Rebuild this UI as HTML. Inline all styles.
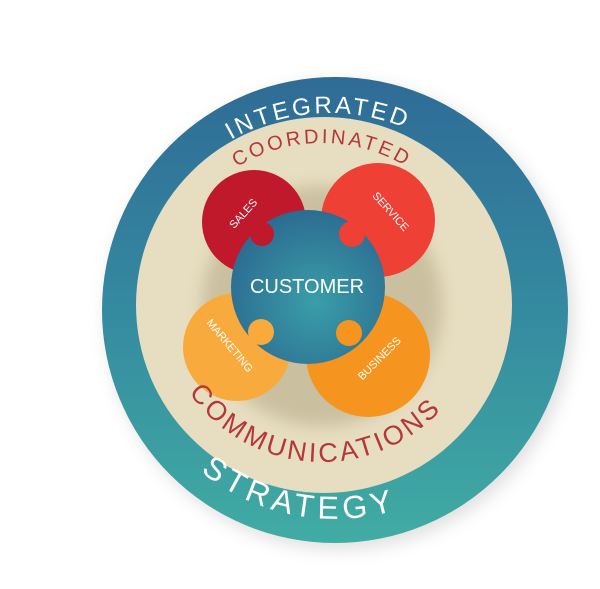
<!DOCTYPE html>
<html><head><meta charset="utf-8"><style>
html,body{margin:0;padding:0;background:#fff;width:600px;height:589px;overflow:hidden}
svg{display:block}
text{font-family:"Liberation Sans",sans-serif}
</style></head><body>
<svg width="600" height="589" viewBox="0 0 600 589" xmlns="http://www.w3.org/2000/svg">
<defs>
<linearGradient id="ring" x1="0" y1="0" x2="0" y2="1">
<stop offset="0" stop-color="#2f6b96"/><stop offset="0.5" stop-color="#348aa0"/><stop offset="1" stop-color="#41aca3"/>
</linearGradient>
<radialGradient id="cust" cx="0.55" cy="0.6" r="0.6">
<stop offset="0" stop-color="#3a9ea8"/><stop offset="1" stop-color="#2c6c92"/>
</radialGradient>
<filter id="sh" x="-20%" y="-20%" width="140%" height="140%"><feGaussianBlur stdDeviation="8"/></filter>
<path id="pInt" d="M133,310 A197,197 0 0 1 527,310"/>
<path id="pCoo" d="M160,305 A162,162 0 0 1 484,305"/>
<path id="pCom" d="M160,300 A162,162 0 0 0 484,300"/>
<path id="pStr" d="M121,305 A214,214 0 0 0 549,305"/>
</defs>
<circle cx="340" cy="316" r="234" fill="#aaa" opacity="0.35" filter="url(#sh)"/>
<circle cx="335" cy="310" r="233" fill="url(#ring)"/>
<circle cx="324" cy="305" r="188" fill="#e7ddc0"/>
<circle cx="322" cy="306" r="120" fill="#a89c78" opacity="0.45" filter="url(#sh)"/>
<!-- pieces -->
<circle cx="254" cy="222" r="52" fill="#c0192c"/>
<circle cx="378" cy="220" r="57" fill="#ee4035"/>
<circle cx="237" cy="347" r="54" fill="#f8ab3c"/>
<circle cx="368" cy="355" r="62" fill="#f5951f"/>
<circle cx="308" cy="287" r="77" fill="url(#cust)"/>
<!-- knobs -->
<circle cx="262" cy="234" r="12" fill="#c0192c"/>
<circle cx="352" cy="234" r="13" fill="#ee4035"/>
<circle cx="261" cy="332" r="13" fill="#f8ab3c"/>
<circle cx="349" cy="333" r="13" fill="#f5951f"/>
<text x="307" y="293" font-size="20" fill="#fff" text-anchor="middle">CUSTOMER</text>
<text transform="translate(246,216) rotate(-48)" font-size="11" fill="#fff" text-anchor="middle">SALES</text>
<text transform="translate(388,214) rotate(48)" font-size="11" fill="#fff" text-anchor="middle">SERVICE</text>
<text transform="translate(227,348) rotate(50)" font-size="11" fill="#fff" text-anchor="middle">MARKETING</text>
<text transform="translate(382,361) rotate(-45)" font-size="11" fill="#fff" text-anchor="middle">BUSINESS</text>
<text font-size="24" fill="#fff" letter-spacing="3"><textPath href="#pInt" startOffset="48%" text-anchor="middle">INTEGRATED</textPath></text>
<text font-size="20" fill="#b5373a" letter-spacing="3"><textPath href="#pCoo" startOffset="50%" text-anchor="middle">COORDINATED</textPath></text>
<text font-size="27" fill="#b5373a" letter-spacing="3"><textPath href="#pCom" startOffset="48%" text-anchor="middle">COMMUNICATIONS</textPath></text>
<text font-size="32" fill="#fff" letter-spacing="5"><textPath href="#pStr" startOffset="44%" text-anchor="middle">STRATEGY</textPath></text>
</svg>
</body></html>
